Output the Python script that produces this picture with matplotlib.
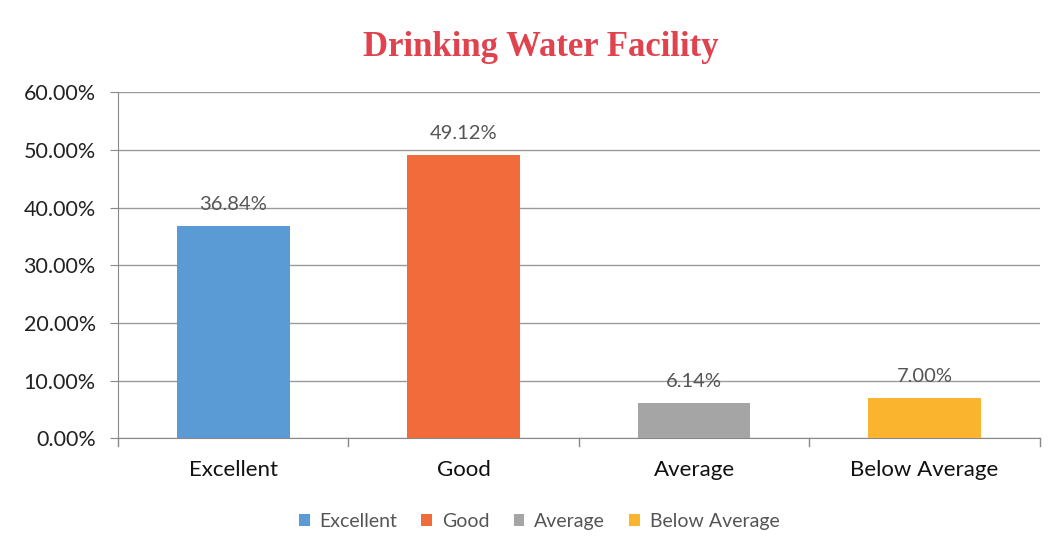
import matplotlib.pyplot as plt
import numpy as np

# Drinking water facility ratings (percent)
categories = ['Excellent', 'Good', 'Average', 'Below Average']
values = [36.84, 49.12, 6.14, 7.00]
colors = ['#5B9BD5', '#F26B3A', '#A5A5A5', '#FBB42E']
yticks = [0, 10, 20, 30, 40, 50, 60]

plt.rcParams['font.family'] = ['Lato', 'DejaVu Sans']

fig = plt.figure(figsize=(10.62, 5.59), dpi=100)
ax = fig.add_axes([0.111, 0.216, 0.868, 0.619])

x = np.arange(len(categories))
bars = ax.bar(x, values, width=0.49, color=colors, label=categories, zorder=3)

for b, v in zip(bars, values):
    ax.text(b.get_x() + b.get_width() / 2, v + 2.2, f'{v:.2f}%',
            ha='center', va='bottom', fontsize=14.5, color='#555555')

ax.set_xlim(-0.5, len(categories) - 0.5)
ax.set_ylim(0, 60)
ax.set_yticks(yticks)
ax.set_yticklabels([f'{t:.2f}%' for t in yticks], fontsize=15.5, color='#222222')
ax.set_xticks(x)
ax.set_xticklabels(categories, fontsize=16, color='#111111')
ax.tick_params(axis='x', length=0, pad=16)
ax.tick_params(axis='y', length=6, color='#888888', pad=10)

# category boundary ticks on the x axis
for bx in np.arange(-0.5, len(categories) + 0.5, 1):
    ax.plot([bx, bx], [0, -1.3], color='#888888', lw=1, clip_on=False, zorder=2)

ax.grid(axis='y', color='#9a9a9a', lw=1, zorder=0)
for side in ['top', 'right']:
    ax.spines[side].set_visible(False)
ax.spines['left'].set_color('#888888')
ax.spines['bottom'].set_color('#888888')

ax.set_title('Drinking Water Facility', fontsize=25, fontweight='bold',
             family='Liberation Serif', color='#E0434E', pad=26, x=0.459)

leg = ax.legend(loc='center', bbox_to_anchor=(0.457, -0.24), ncol=4, frameon=False,
                fontsize=14, handlelength=0.55, handleheight=0.55, columnspacing=1.25,
                handletextpad=0.5)
for t in leg.get_texts():
    t.set_color('#555555')

fig.savefig('out.png', dpi=100)
